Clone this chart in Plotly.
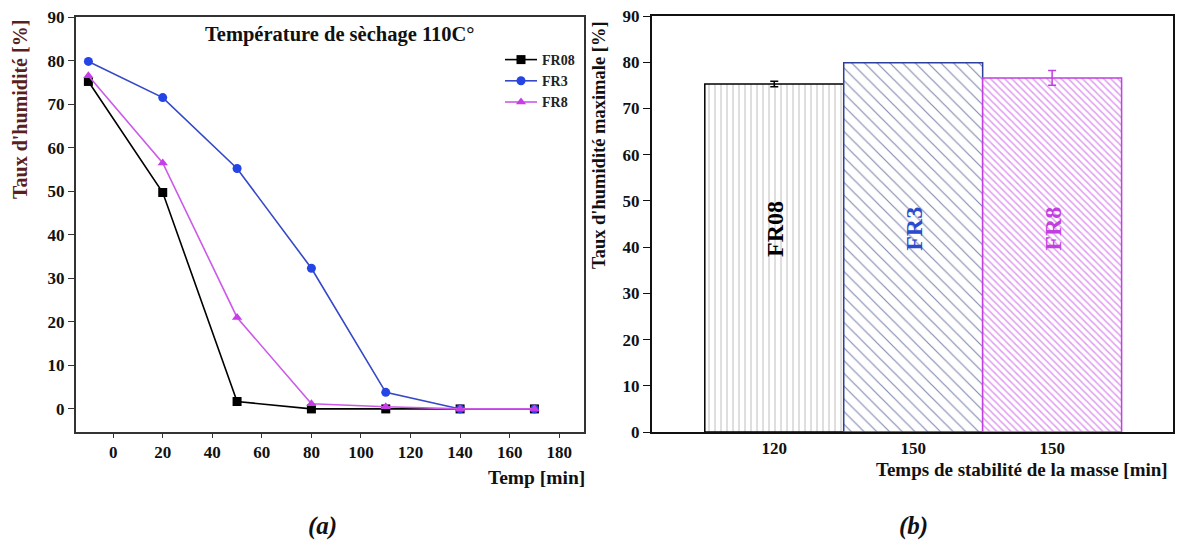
import plotly.graph_objects as go

# ---- data: panel (a)
time_min = [-10, 20, 50, 80, 110, 140, 170]
fr08 = [75.2, 49.7, 1.7, 0.0, 0.0, 0.0, 0.0]
fr3 = [79.8, 71.5, 55.2, 32.3, 3.8, 0.0, 0.0]
fr8 = [76.5, 56.5, 21.0, 1.2, 0.5, 0.0, 0.0]

# ---- data: panel (b)
bar_names = ["FR08", "FR3", "FR8"]
bar_pos = [1, 2, 3]
bar_ticks = ["120", "150", "150"]
bar_vals = [75.3, 79.9, 76.6]
bar_err = [0.6, 0.0, 1.6]

W, H = 1183, 547
FONT = "Liberation Serif"

def px(x):
    return x / W

def py(y):
    return 1 - y / H

fig = go.Figure()

line_cols = ["#000000", "#3548c8", "#cc5ae8"]
mk_cols = ["#000000", "#2444e6", "#c73ee8"]
symbols = ["square", "circle", "triangle-up"]
for name, vals, lc, mc, sym in zip(["FR08", "FR3", "FR8"], [fr08, fr3, fr8], line_cols, mk_cols, symbols):
    fig.add_trace(go.Scatter(
        x=time_min, y=vals, name=name, mode="lines+markers",
        line=dict(color=lc, width=1.6),
        marker=dict(symbol=sym, size=9, color=mc),
        xaxis="x", yaxis="y"))

bar_line = ["#000000", "#2c3f9c", "#c040e0"]
pat_fg = ["#9c9c9c", "#0a1560", "#c23ee0"]
pat_shape = ["|", "\\", "\\"]
pat_size = [6, 9, 5]
pat_sol = [0.22, 0.13, 0.3]
for i in range(3):
    fig.add_trace(go.Bar(
        x=[bar_pos[i]], y=[bar_vals[i]], width=1, name=bar_names[i],
        showlegend=False,
        marker=dict(color="white",
                    line=dict(color=bar_line[i], width=1.5),
                    pattern=dict(shape=pat_shape[i], fgcolor=pat_fg[i], bgcolor="white",
                                 size=pat_size[i], solidity=pat_sol[i])),
        error_y=dict(type="data", array=[bar_err[i]], visible=bar_err[i] > 0,
                     color=bar_line[i], thickness=1.5, width=4),
        xaxis="x2", yaxis="y2"))

tickfont = dict(family=FONT, size=17, color="#111111", weight="bold")
axcol = "#333333"

fig.update_layout(
    width=W, height=H,
    margin=dict(l=0, r=0, t=0, b=0, pad=0, autoexpand=False),
    paper_bgcolor="white", plot_bgcolor="white",
    barmode="overlay",
    showlegend=True,
    legend=dict(x=px(500), y=py(44), xanchor="left", yanchor="top",
                font=dict(family=FONT, size=14, color="#222222", weight="bold"),
                bgcolor="rgba(0,0,0,0)", tracegroupgap=0, itemwidth=32),
    xaxis=dict(domain=[px(76), px(584)], range=[-15, 190], tickvals=list(range(0, 181, 20)),
               showgrid=False, zeroline=False, showline=True, linecolor=axcol, linewidth=2,
               mirror=True, ticks="outside", ticklen=4, tickcolor=axcol, tickfont=tickfont,
               anchor="y", automargin=False),
    yaxis=dict(domain=[py(432), py(17)], range=[-5.3, 90], tickvals=list(range(0, 91, 10)),
               showgrid=False, zeroline=False, showline=True, linecolor=axcol, linewidth=2,
               mirror=True, ticks="outside", ticklen=6, tickcolor=axcol, tickfont=tickfont,
               anchor="x", automargin=False),
    xaxis2=dict(domain=[px(652), px(1173)], range=[0.12, 3.87], tickvals=bar_pos, ticktext=bar_ticks,
                showgrid=False, zeroline=False, showline=True, linecolor="#111111", linewidth=2,
                mirror=True, ticks="", tickfont=tickfont, anchor="y2", automargin=False),
    yaxis2=dict(domain=[py(432), py(16)], range=[0, 90], tickvals=list(range(0, 91, 10)),
                showgrid=False, zeroline=False, showline=True, linecolor="#111111", linewidth=2,
                mirror=True, ticks="outside", ticklen=7, tickcolor="#111111", tickfont=tickfont,
                anchor="x2", automargin=False),
)

ann = []
def A(text, x, y, size, color="#111111", angle=0, xanchor="center", italic=False):
    ann.append(dict(text=text, x=px(x), y=py(y), xref="paper", yref="paper", showarrow=False,
                    font=dict(family=FONT, size=size, color=color, weight="bold",
                              style="italic" if italic else "normal"),
                    textangle=angle, xanchor=xanchor, yanchor="middle"))

A("Température de sèchage 110C°", 340, 34, 20.5)
A("Taux d'humidité [%]", 20, 110, 20, color="#5a1f1f", angle=-90)
A("Temp [min]", 536, 477, 19.5)
A("(a)", 322, 526, 25, italic=True)
A("Taux d'humidité maximale [%]", 599, 145, 18.5, angle=-90)
A("Temps de stabilité de la masse [min]", 1022, 469, 19)
A("(b)", 913, 526, 25, italic=True)
fig.update_layout(annotations=ann)

# labels inside bars (data coordinates)
lab_cols = ["#000000", "#2a4bd0", "#c23ee0"]
for i in range(3):
    fig.add_annotation(text=bar_names[i], x=bar_pos[i], y=44.0, xref="x2", yref="y2",
                       showarrow=False, textangle=-90,
                       font=dict(family=FONT, size=24, color=lab_cols[i], weight="bold"))

fig.write_html("out.html", config={"displayModeBar": False},
               post_script="document.body.style.margin='0';document.body.style.overflow='hidden';")
